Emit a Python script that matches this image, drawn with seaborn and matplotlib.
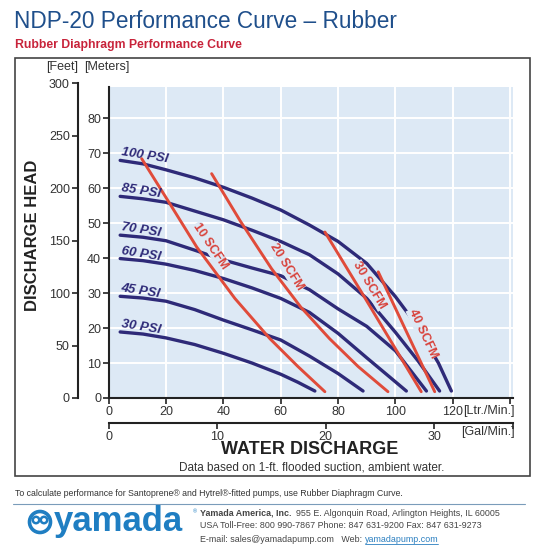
import pandas as pd
import seaborn as sns
import matplotlib.pyplot as plt
from matplotlib.patches import Rectangle, Circle
from matplotlib.lines import Line2D

# ---- data (flow in L/min, head in m) ----
psi_names = ['100 PSI', '85 PSI', '70 PSI', '60 PSI', '45 PSI', '30 PSI']
flow_100 = [4, 12, 20, 30, 40, 50, 60, 70, 80, 90, 100, 105, 110, 115, 119.5]
head_100 = [68, 67, 65.3, 63, 60.3, 57.2, 53.8, 49.5, 44.8, 38.5, 29, 23.5, 17, 10, 2]
flow_85 = [4, 12, 20, 30, 40, 50, 60, 70, 80, 90, 100, 108, 115.4]
head_85 = [57.7, 57, 56, 53.5, 51, 48, 44.8, 41, 35.5, 28.5, 18.8, 10.5, 2]
flow_70 = [4, 12, 20, 30, 40, 50, 60, 70, 80, 90, 100, 110.8]
head_70 = [46.6, 46, 45, 42.3, 39.5, 37.2, 35, 31, 25.5, 20.5, 13.5, 2]
flow_60 = [4, 12, 20, 30, 40, 50, 60, 70, 80, 90, 98, 103.8]
head_60 = [39.9, 39.3, 38.3, 36.5, 34.2, 31.5, 28.5, 24.5, 18.5, 11.5, 6, 2]
flow_45 = [4, 12, 20, 30, 40, 50, 60, 70, 80, 88.7]
head_45 = [29.1, 28.6, 27.7, 25.3, 22.3, 19.5, 16.6, 12, 7, 2]
flow_30 = [4, 12, 20, 30, 40, 50, 60, 66, 71.9]
head_30 = [18.9, 18.3, 17.2, 15.3, 12.8, 10, 6.8, 4.5, 2]

scfm_names = ['10 SCFM', '20 SCFM', '30 SCFM', '40 SCFM']
flow_s10 = [11.5, 21.4, 30.7, 44, 56.2, 66, 75.4]
head_s10 = [68.5, 55.5, 43.2, 28.5, 17, 9, 1.8]
flow_s20 = [35.9, 46, 56.8, 67, 77, 87, 97.4]
head_s20 = [64.2, 50.5, 37, 26, 17, 9, 1.8]
flow_s30 = [75.4, 88, 98.6, 109]
head_s30 = [47.5, 30.5, 16, 1.8]
flow_s40 = [94, 104, 113.7]
head_s40 = [36.1, 18.7, 1.8]

x_ticks = [0, 20, 40, 60, 80, 100, 120, 140]
x_labels = ['0', '20', '40', '60', '80', '100', '120', '']
m_ticks = [0, 10, 20, 30, 40, 50, 60, 70, 80]
ft_ticks = [0, 50, 100, 150, 200, 250, 300]
gal_ticks = [0, 10, 20, 30]

psi_df = pd.concat([
    pd.DataFrame({'flow': f, 'head': h, 'curve': n})
    for n, f, h in zip(psi_names,
                       [flow_100, flow_85, flow_70, flow_60, flow_45, flow_30],
                       [head_100, head_85, head_70, head_60, head_45, head_30])
])
scfm_df = pd.concat([
    pd.DataFrame({'flow': f, 'head': h, 'curve': n})
    for n, f, h in zip(scfm_names,
                       [flow_s10, flow_s20, flow_s30, flow_s40],
                       [head_s10, head_s20, head_s30, head_s40])
])

NAVY = '#2e2a78'
RED = '#e04b3a'
BG = '#dde9f5'
TXT = '#333333'

sns.set_theme(style='white')
plt.rcParams['font.family'] = ['Liberation Sans', 'DejaVu Sans']

fig = plt.figure(figsize=(5.5, 5.5), dpi=100)
fig.patch.set_facecolor('white')


def fx(px):
    return px / 550


def fy(py):
    return 1 - py / 550


ax = fig.add_axes([fx(108.7), fy(398), (513 - 108.7) / 550, (398 - 87) / 550])
ax.set_facecolor(BG)

sns.lineplot(data=psi_df, x='flow', y='head', hue='curve',
             palette={n: NAVY for n in psi_names}, estimator=None,
             legend=False, lw=2.4, ax=ax, zorder=3)
sns.lineplot(data=scfm_df, x='flow', y='head', hue='curve',
             palette={n: RED for n in scfm_names}, estimator=None,
             legend=False, lw=2.1, ax=ax, zorder=4)

ax.set_xlim(0, 141)
ax.set_ylim(0, 89)
ax.set_xticks(x_ticks)
ax.set_xticklabels(x_labels)
ax.set_yticks(m_ticks)
ax.set_xlabel('')
ax.set_ylabel('')
ax.grid(True, color='white', lw=1.4)
ax.set_axisbelow(True)
for s in ['top', 'right']:
    ax.spines[s].set_visible(False)
for s in ['left', 'bottom']:
    ax.spines[s].set_color('#222222')
    ax.spines[s].set_linewidth(1.5)
ax.tick_params(left=True, bottom=True, direction='out', length=4, width=1.2,
               color='#222222', labelsize=9, labelcolor=TXT, pad=1.5)

# pressure labels
psi_pos = [(4, 68.6), (4, 58.3), (4, 47.2), (4, 40.5), (4, 29.7), (4, 19.5)]
for n, (x, y) in zip(psi_names, psi_pos):
    ax.text(x, y, n, color=NAVY, fontsize=9.5, fontweight='bold', fontstyle='italic',
            rotation=-9, rotation_mode='anchor', ha='left', va='bottom', zorder=6)

# air consumption labels
scfm_pos = [(35.5, 43.5), (62, 37.5), (91, 32.2), (109.5, 18.5)]
scfm_rot = [-56, -58, -59, -65]
for n, (x, y), r in zip(scfm_names, scfm_pos, scfm_rot):
    ax.text(x, y, n, color='#d8413a', fontsize=9, fontweight='bold',
            rotation=r, rotation_mode='anchor', ha='center', va='center', zorder=6,
            bbox=dict(facecolor=BG, edgecolor='none', pad=0.3))

# gallons axis below
gal = ax.secondary_xaxis(-(423 - 398) / (398 - 87),
                         functions=(lambda q: q / 3.785, lambda q: q * 3.785))
gal.set_xticks(gal_ticks + [141 / 3.785], labels=[str(t) for t in gal_ticks] + [''])
gal.tick_params(direction='out', length=4, width=1.2, color='#222222',
                labelsize=9, labelcolor=TXT, pad=1.5)
gal.spines['bottom'].set_linewidth(1.5)
gal.spines['bottom'].set_color('#222222')

# feet axis on the left
axf = fig.add_axes([fx(77.5), fy(398), 0.0001, (398 - 83.3) / 550])
axf.set_ylim(0, 300)
axf.set_yticks(ft_ticks)
axf.xaxis.set_visible(False)
axf.patch.set_visible(False)
for s in ['top', 'right', 'bottom']:
    axf.spines[s].set_visible(False)
axf.spines['left'].set_color('#222222')
axf.spines['left'].set_linewidth(1.5)
axf.tick_params(left=True, direction='out', length=4, width=1.2, color='#222222',
                labelsize=9, labelcolor=TXT, pad=1.5)

# header
fig.text(fx(14), fy(28), 'NDP-20 Performance Curve \u2013 Rubber', color='#1f4f8b',
         fontsize=16.3, va='baseline', ha='left')
fig.text(fx(15), fy(48), 'Rubber Diaphragm Performance Curve', color='#c8233a',
         fontsize=8.8, fontweight='bold', va='baseline', ha='left')

# frame
fig.add_artist(Rectangle((fx(15), fy(476)), (530 - 15) / 550, (476 - 58) / 550,
                         transform=fig.transFigure, fill=False, edgecolor='#444444', lw=1.2))

fig.text(fx(46), fy(70), '[Feet]', fontsize=9, color=TXT, ha='left', va='baseline')
fig.text(fx(84), fy(70), '[Meters]', fontsize=9, color=TXT, ha='left', va='baseline')
fig.text(fx(33), fy(235), 'DISCHARGE HEAD', fontsize=12, fontweight='bold', color='#222222',
         rotation=90, ha='center', va='center')
fig.text(fx(515), fy(411), '[Ltr./Min.]', fontsize=9, color=TXT, ha='right', va='center')
fig.text(fx(515), fy(432), '[Gal/Min.]', fontsize=9, color=TXT, ha='right', va='center')
fig.text(fx(310), fy(450), 'WATER DISCHARGE', fontsize=13, fontweight='bold', color='#222222',
         ha='center', va='center')
fig.text(fx(312), fy(467), 'Data based on 1-ft. flooded suction, ambient water.',
         fontsize=8.5, color=TXT, ha='center', va='center')

# footer
fig.text(fx(15), fy(493), 'To calculate performance for Santoprene\u00ae and Hytrel\u00ae-fitted pumps, '
         'use Rubber Diaphragm Curve.', fontsize=6.3, color=TXT, ha='left', va='center')
fig.add_artist(Line2D([fx(13), fx(525)], [fy(504), fy(504)], transform=fig.transFigure,
                      color='#7a9cba', lw=0.8))

BLUE = '#1f7ec2'
fig.add_artist(Circle((fx(40), fy(522)), 10.5 / 550, transform=fig.transFigure,
                      fill=False, edgecolor=BLUE, lw=2.6))
fig.add_artist(Circle((fx(36), fy(520)), 3.2 / 550, transform=fig.transFigure,
                      fill=False, edgecolor=BLUE, lw=1.8))
fig.add_artist(Circle((fx(44), fy(520)), 3.2 / 550, transform=fig.transFigure,
                      fill=False, edgecolor=BLUE, lw=1.8))
fig.text(fx(54), fy(522), 'yamada', fontsize=25, fontweight='bold', color=BLUE,
         ha='left', va='center')
fig.text(fx(193), fy(512), '\u00ae', fontsize=4, color=BLUE, ha='left', va='center')

fig.canvas.draw()
r = fig.canvas.get_renderer()
t1 = fig.text(fx(200), fy(513), 'Yamada America, Inc.', fontsize=6.4, fontweight='bold',
              color='#444444', ha='left', va='center')
bb = t1.get_window_extent(renderer=r)
fig.text(bb.x1 / fig.bbox.width + fx(4), fy(513),
         '955 E. Algonquin Road, Arlington Heights, IL 60005',
         fontsize=6.4, color='#444444', ha='left', va='center')
fig.text(fx(200), fy(526), 'USA Toll-Free: 800 990-7867 Phone: 847 631-9200 Fax: 847 631-9273',
         fontsize=6.4, color='#444444', ha='left', va='center')
t3 = fig.text(fx(200), fy(539), 'E-mail: sales@yamadapump.com   Web: ', fontsize=6.4,
              color='#444444', ha='left', va='center')
bb = t3.get_window_extent(renderer=r)
t4 = fig.text(bb.x1 / fig.bbox.width, fy(539), 'yamadapump.com', fontsize=6.4,
              color='#2a7fc0', ha='left', va='center')
bb4 = t4.get_window_extent(renderer=r)
fig.add_artist(Line2D([bb4.x0 / fig.bbox.width, bb4.x1 / fig.bbox.width],
                      [bb4.y0 / fig.bbox.height] * 2, transform=fig.transFigure,
                      color='#2a7fc0', lw=0.6))

fig.savefig('out.png', dpi=100, facecolor='white')
